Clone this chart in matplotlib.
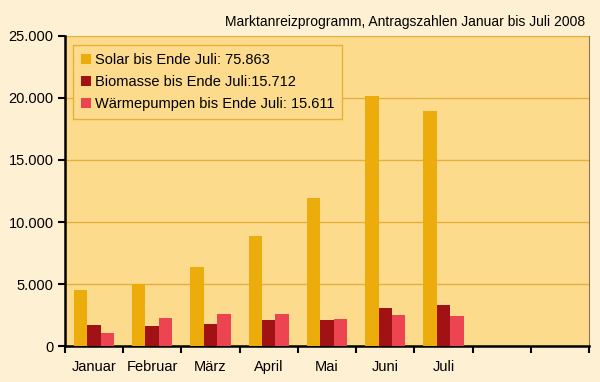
import matplotlib.pyplot as plt
import numpy as np

plt.rcParams['font.family'] = ['Liberation Sans', 'DejaVu Sans']

# Daten
monate = ["Januar", "Februar", "März", "April", "Mai", "Juni", "Juli", "", ""]
solar = [4550, 5000, 6400, 8900, 11900, 20150, 18960]
biomasse = [1720, 1580, 1820, 2100, 2100, 3050, 3340]
waermepumpen = [1020, 2230, 2620, 2620, 2180, 2540, 2400]
labels = ["Solar bis Ende Juli: 75.863",
          "Biomasse bis Ende Juli:15.712",
          "Wärmepumpen bis Ende Juli: 15.611"]
titel = "Marktanreizprogramm, Antragszahlen Januar bis Juli 2008"
yticks = [0, 5000, 10000, 15000, 20000, 25000]
ylabels = ["0", "5.000", "10.000", "15.000", "20.000", "25.000"]

farben = ["#ECAC0C", "#A01214", "#EC4450"]
hintergrund = "#FEF0D2"
plotfarbe = "#FDDB8C"
gitter = "#E6AE3C"

fig = plt.figure(figsize=(6, 3.82), dpi=100, facecolor=hintergrund)
ax = fig.add_axes([0.108, 0.094, 0.874, 0.812])
ax.set_facecolor(plotfarbe)

x = np.arange(len(solar))
w = 0.23
ax.bar(x - w, solar, w, color=farben[0], label=labels[0], zorder=3)
ax.bar(x, biomasse, w, color=farben[1], label=labels[1], zorder=3)
ax.bar(x + w, waermepumpen, w, color=farben[2], label=labels[2], zorder=3)

ax.set_xlim(-0.5, len(monate) - 0.5)
ax.set_ylim(0, 25000)
ax.set_yticks(yticks)
ax.set_yticklabels(ylabels, fontsize=10.5)
ax.set_xticks(np.arange(len(monate)))
ax.set_xticklabels(monate, fontsize=10.5)
# Ticks zwischen den Kategorien
ax.set_xticks(np.arange(len(monate) + 1) - 0.5, minor=True)
ax.tick_params(axis='x', which='major', length=0, pad=10)
ax.tick_params(axis='x', which='minor', length=5, width=1.5, direction='out')
ax.tick_params(axis='y', length=5, width=1.5, direction='out', pad=3)

ax.yaxis.grid(True, color=gitter, linewidth=1, zorder=0)
ax.spines['top'].set_visible(False)
ax.spines['right'].set_color("#8C7454")
ax.spines['right'].set_linewidth(0.8)
ax.spines['left'].set_linewidth(1.8)
ax.spines['bottom'].set_linewidth(1.8)

leg = ax.legend(loc='upper left', bbox_to_anchor=(0.015, 0.97), borderaxespad=0,
                fontsize=10.5, handlelength=0.7, handleheight=0.7, handletextpad=0.25,
                fancybox=False, facecolor=plotfarbe, edgecolor=gitter,
                framealpha=1, labelspacing=0.55, borderpad=0.55)
leg.get_frame().set_linewidth(1)

fig.text(0.976, 0.942, titel, ha='right', va='center', fontsize=10)

fig.savefig("out.png", dpi=100, facecolor=hintergrund)
